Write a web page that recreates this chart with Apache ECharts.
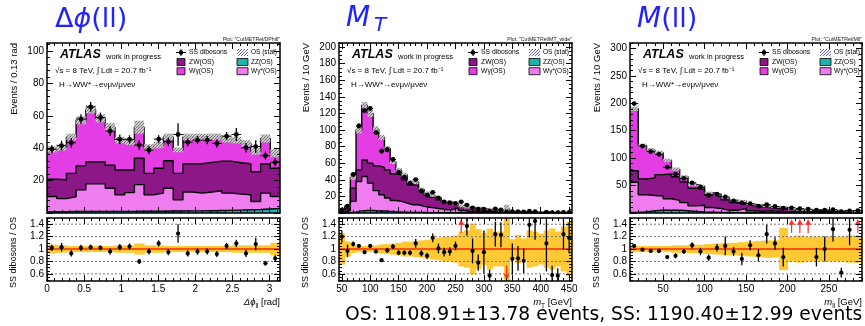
<!DOCTYPE html>
<html><head><meta charset="utf-8">
<script src="https://cdn.jsdelivr.net/npm/echarts@6.0.0/dist/echarts.min.js"></script>
<style>html,body{margin:0;padding:0;background:#fff;}#chart{width:865px;height:326px;}</style>
</head><body><div id="chart"></div>
<script>
// ================= DATA =================
// Panel 1: Δφ(ll) — 24 bins from 0 to π
const dphi_bins = {lo: 0, hi: Math.PI, n: 24};
const dphi_ZZ     = [0.8,0.8,0.9,0.9,0.9,1.0,1.0,1.0,1.0,1.1,1.1,1.1,1.2,1.2,1.3,1.3,1.4,1.5,1.6,1.8,2.0,2.2,2.5,2.8];
const dphi_WgStar = [9.4,8.1,9.1,13.4,17.1,17.0,14.3,10.2,11.6,16.4,10.1,11.2,14.1,6.9,11.7,11.0,11.6,12.2,10.7,9.9,9.2,4.9,9.8,7.4];
const dphi_ZW     = [10.6,11.6,14.5,14.9,13.7,13.7,14.2,15.4,14.0,16.3,13.3,15.3,17.0,16.4,17.4,18.1,18.3,18.3,19.7,19.3,19.2,18.4,18.1,17.4];
const dphi_Wg     = [18.5,20.0,22.5,28.1,32.3,26.7,23.5,18.4,17.4,19.2,16.0,14.4,14.7,14.5,16.6,16.6,15.7,15.0,13.5,14.0,12.6,12.5,15.6,9.4];
const dphi_OSerr  = [2,2,2,2.5,2.5,2.5,2.5,2,2,4,2,2,2,1.5,2,2,2,2,2,2,2,2,2.5,2.5];
const dphi_SS     = [39.4,41.6,43.4,58.0,65.5,59.0,50.6,45.5,45.5,42.0,38.9,45.6,44.0,48.5,43.7,45.0,45.0,43.0,47.5,48.5,40.3,41.0,35.4,31.3];
const dphi_SSerr  = [2.5,3,3,3,3,3,3,3,2.5,3,2.5,2.5,2.5,7,2.5,2.5,2.5,2.5,2.5,4,3,4,2.5,2.5];
const dphi_ratio  = [1.02,1.03,0.93,1.02,1.03,1.02,0.96,1.03,1.04,0.80,0.96,1.09,0.95,1.25,0.93,0.96,0.96,0.92,1.05,1.09,0.93,1.08,0.77,0.85];
const dphi_ratioErr=[0.05,0.07,0.05,0.05,0.04,0.04,0.05,0.05,0.05,0.04,0.05,0.05,0.05,0.15,0.05,0.05,0.05,0.05,0.05,0.06,0.06,0.1,0.04,0.05];
const dphi_band   = [0.07,0.06,0.05,0.05,0.05,0.05,0.05,0.06,0.06,0.09,0.06,0.06,0.05,0.05,0.05,0.05,0.05,0.05,0.05,0.06,0.06,0.06,0.06,0.1];
const dphi_xTicks = [0,0.5,1,1.5,2,2.5,3];
const dphi_yLabels = [20,40,60,80,100];

// Panel 2: M_T — 41 bins of 10 GeV from 45 to 455
const mt_bins = {lo: 45, hi: 455, n: 41};
const mt_ZZ     = [0.1,0.3,1,2.5,3,3,2.5,2.5,2,1.5, 1.2,1,0.8,0.7,0.6,0.5,0.4,0.4,0.3,0.3, 0.3,0.2,0.2,0.2,0.2,0.1,0.1,0.1,0.1,0.1, 0.1,0.1,0,0,0,0,0,0,0,0, 0];
const mt_WgStar = [0.9,2.7,13,35.5,41,33,24.5,19.5,16,13.5, 12.8,11,9.2,9.3,7.4,6.5,5.6,4.6,3.7,3.7, 5.7,2.8,1.8,1.8,1.8,1.4,1.4,0.9,0.9,0.9, 0.4,0.4,0.3,0.3,0.3,0.2,0.2,0.2,0.1,0.1, 0.1];
const mt_ZW     = [1,2,16,14,20,24,30,33,34,32, 32,28,24,23,19,15,13,11,9,7.5, 4.5,5,4.5,3.5,3,2.5,2,2,1.5,1, 1,1,0.7,0.7,0.5,0.5,0.4,0.3,0.4,0.3, 0.3];
const mt_Wg     = [1,3.5,13,48,66,60,44,36,26,15, 6,6,4,4,1.5,2,2,2,1,1.5, 0.5,0.5,0.5,1,1,1,0.5,1,0.5,3, 0.5,0.5,0.5,0.5,0.4,0.3,0.4,0.3,0.2,0.2, 0.1];
const mt_OSerr  = [1,1.5,3,4,4,4,3.5,3,3,3, 2.5,2.5,2,2,2,2,1.5,1.5,1.5,1.5, 1.5,1.5,1.5,1.5,1.5,1,1,1,1,5, 1,1,0.5,0.5,0.5,0.5,0.5,0.5,0.5,0.5, 0.5];
const mt_SS     = [3.6,8.2,46.4,105,123.5,126,97,74.6,76.4,64.5, 48.9,43.2,35.7,40.3,26.5,21.4,24.8,18.2,13.3,12.5, 11.6,13.5,9.6,6.3,4.7,4.75,2.3,5,3.7,1.2, 1.7,1.7,1.2,2.1,1.74,null,1.09,0.46,0.4,0.74, 0.59];
const mt_SSerr  = [1,1.5,2,3,3,3,3,3,3,2.5, 2.5,2,2,2,2,2,2,1.5,1.5,1.5, 1.5,1.5,1.5,1.5,1,1,1,1,1,0.5, 0.5,0.5,0.5,0.5,0.5,0,0.5,0.3,0.3,0.3, 0.3];
const mt_ratio  = [1.20,0.97,1.08,1.05,0.95,1.05,0.96,0.82,0.98,1.04, 0.94,0.94,0.94,1.09,0.93,0.89,1.18,1.01,0.95,0.96, 1.05,1.59,1.37,0.97,0.78,0.95,0.57,1.24,1.23,0.30, 0.84,0.85,0.81,1.39,1.45,null,1.09,0.58,0.57,1.24, 1.18];
const mt_ratioErr=[0.1,0.1,0.04,0.03,0.03,0.03,0.03,0.02,0.04,0.04, 0.04,0.04,0.04,0.07,0.05,0.05,0.07,0.08,0.07,0.07, 0.07,0,0.15,0.2,0.13,0.35,0.1,0.2,0.2,0, 0.25,0.2,0.2,0.2,0.3,0,0.45,0.15,0.12,0.25, 0.25];
const mt_band   = [0.25,0.12,0.065,0.05,0.05,0.05,0.06,0.075,0.08,0.09, 0.1,0.12,0.12,0.13,0.14,0.15,0.17,0.18,0.2,0.2, 0.22,0.28,0.3,0.41,0.32,0.26,0.33,0.28,0.28,0.6, 0.16,0.23,0.17,0.3,0.28,0.25,0.3,0.33,0.28,0.36, 0.44];
const mt_xTicks = [50,100,150,200,250,300,350,400,450];
const mt_yLabels = [20,40,60,80,100,120,140,160,180,200];

// Panel 3: M(ll) — 28 bins of 10 GeV from 10 to 290
const mll_bins = {lo: 10, hi: 290, n: 28};
const mll_ZZ     = [1,2,4,5,5,5,4,3,2,1.5, 1,0.8,0.6,0.5,0.4,0.3,0.3,0.2,0.2,0.2, 0.1,0.1,0.1,0.1,0.1,0.1,0.1,0.1];
const mll_WgStar = [55,31,28,26,21,18,15,10,12,8.5, 7,4.2,4.4,7.5,3.6,2.7,3.7,2.8,1.8,1.8, 1.4,1.4,0.9,0.9,0.9,0.7,0.5,0.4];
const mll_ZW     = [21,29,32,39,45,43,38,32,29,23, 22,19,14,8,9,8,6,5,5,3, 2.5,2,3,2.5,2,1.7,1.4,1.3];
const mll_Wg     = [113,61,51,40,25,14,9,7,6,4, 4,4,4,6,3,3,2,3,3,1, 1,1,2,1.5,1.5,1.5,1,0.7];
const mll_OSerr  = [4,3.5,3.5,3.5,3,3,3,2.5,2.5,2, 2,2,2,2,1.5,1.5,1.5,1.5,1.5,1, 1,1,1,1,1,1,1,1];
const mll_SS     = [199.5,122,112,107,83.5,71,63,55,47,32, 34.5,29.4,22,18.5,17,12.6,15,12,8.7,9.5, 8,7,5.2,5,5.9,2.5,3.9,4.5];
const mll_SSerr  = [3,2.5,2.5,2.5,2,2,2,2,2,1.5, 1.5,1.5,1.5,1.5,1,1,1,1,1,1, 1,1,1,1,1,0.5,0.5,0.5];
const mll_ratio  = [1.05,0.99,0.97,0.97,0.87,0.89,0.96,1.06,0.96,0.86, 1.02,1.05,0.96,0.84,1.06,0.90,1.24,1.09,0.87,1.58, 1.60,1.56,0.87,1.00,1.32,0.62,1.31,1.80];
const mll_ratioErr=[0.02,0.02,0.02,0.03,0.02,0.04,0.04,0.05,0.06,0.05, 0.06,0.15,0.07,0.1,0.08,0.1,0.15,0.1,0.15,0, 0,0,0.15,0.2,0.2,0.08,0.25,0];
const mll_band   = [0.05,0.05,0.05,0.05,0.05,0.06,0.06,0.07,0.07,0.08, 0.09,0.1,0.1,0.11,0.12,0.13,0.14,0.14,0.34,0.2, 0.22,0.2,0.2,0.2,0.2,0.2,0.22,0.22];
const mll_xTicks = [50,100,150,200,250];
const mll_yLabels = [50,100,150,200,250,300];

const ratio_yLabels = [0.6,0.8,1,1.2,1.4];
const ratio_dashed = [0.6,0.8,1.2,1.4];
const summaryText = 'OS: 1108.91\u00B113.78 events, SS: 1190.40\u00B112.99 events';

// ================= STYLE =================
const COL = {ZZ:'#1fb3ad', WgStar:'#f07df0', ZW:'#8c1787', Wg:'#e53de5', band:'#ffc933', red:'#f52a0a', arrow:'#ff2a2a', title:'#2222ff'};
const AX_FONT = '"Liberation Sans", Arial, sans-serif';
const RATIO_RANGE = [0.485, 1.5];
const MAIN_TOP = 43, MAIN_H = 170, RAT_TOP = 218, RAT_H = 63;

function makeHatch(bg, fg, n){
  const c = document.createElement('canvas'); c.width = n; c.height = n;
  const g = c.getContext('2d'); g.fillStyle = bg; g.fillRect(0,0,n,n);
  g.strokeStyle = fg; g.lineWidth = 1; g.beginPath();
  g.moveTo(-1,n+1); g.lineTo(n+1,-1); g.stroke();
  return c;
}
const hatchGray = makeHatch('rgba(205,205,205,0.95)', '#7a7a7a', 3);
const hatchBlue = makeHatch('#ffffff', '#5c5cd6', 3);

const grids = [], xAxes = [], yAxes = [], series = [], G = [];

function stepVals(lo, hi, step){
  const out = []; const k0 = Math.ceil(lo/step - 1e-9), k1 = Math.floor(hi/step + 1e-9);
  for (let k = k0; k <= k1; k++) out.push(+(k*step).toFixed(6));
  return out;
}
function mkAxis(kind, gi, r, pos, ticks, len, showLine, labels, fmt){
  const a = {type:'value', gridIndex:gi, min:r[0], max:r[1], position:pos, z:10,
    axisLine:{show:showLine, onZero:false, lineStyle:{color:'#000', width:1.5}},
    axisTick:{show:true, inside:true, length:len, customValues:ticks, lineStyle:{color:'#000', width:1}},
    axisLabel:{show:!!labels, customValues:labels || ticks, margin:3, color:'#000', fontSize:10, fontFamily:AX_FONT},
    splitLine:{show:false}, minorTick:{show:false}};
  if (fmt) a.axisLabel.formatter = fmt;
  const arr = kind === 'x' ? xAxes : yAxes; arr.push(a); return arr.length - 1;
}
function addGrid(box, xr, yr, xMajStep, xMinStep, yMajStep, yMinStep, xLab, yLab, yFmt){
  const gi = grids.length;
  grids.push({left:box.left, top:box.top, width:box.width, height:box.height, containLabel:false, outerBoundsMode:'none'});
  const xMaj = stepVals(xr[0], xr[1], xMajStep), xMin = stepVals(xr[0], xr[1], xMinStep);
  const yMaj = stepVals(yr[0], yr[1], yMajStep), yMin = stepVals(yr[0], yr[1], yMinStep);
  const xi = mkAxis('x', gi, xr, 'bottom', xMaj, 6, true, xLab);
  mkAxis('x', gi, xr, 'bottom', xMin, 3, false, null);
  mkAxis('x', gi, xr, 'top', xMaj, 6, true, null);
  mkAxis('x', gi, xr, 'top', xMin, 3, false, null);
  const yi = mkAxis('y', gi, yr, 'left', yMaj, 6, true, yLab, yFmt);
  mkAxis('y', gi, yr, 'left', yMin, 3, false, null);
  mkAxis('y', gi, yr, 'right', yMaj, 6, true, null);
  mkAxis('y', gi, yr, 'right', yMin, 3, false, null);
  return {xi, yi};
}

function pointsItem(withH, r){
  return function(params, api){
    const lo = api.value(0), hi = api.value(1), v = api.value(2), e = api.value(3), m = (lo+hi)/2;
    const c = api.coord([m, v]), t = api.coord([m, v+e]), b = api.coord([m, v-e]);
    const ch = [];
    if (withH){ const pl = api.coord([lo, v]), pr = api.coord([hi, v]);
      ch.push({type:'line', shape:{x1:pl[0], y1:pl[1], x2:pr[0], y2:pr[1]}, style:{stroke:'#000', lineWidth:1}}); }
    ch.push({type:'line', shape:{x1:t[0], y1:t[1], x2:b[0], y2:b[1]}, style:{stroke:'#000', lineWidth:1.3}});
    ch.push({type:'circle', shape:{cx:c[0], cy:c[1], r:r}, style:{fill:'#000'}});
    return {type:'group', children:ch};
  };
}

function buildPanel(P){
  const B = P.bins, edges = [];
  for (let i = 0; i <= B.n; i++) edges.push(B.lo + (B.hi - B.lo)*i/B.n);
  const xr = [B.lo, B.hi];
  const M = addGrid({left:P.left, top:MAIN_TOP, width:P.width, height:MAIN_H}, xr, [0, P.yMax],
                    P.xMajStep, P.xMinStep, P.yMajStep, P.yMinStep, null, P.yLabels);
  const R = addGrid({left:P.left, top:RAT_TOP, width:P.width, height:RAT_H}, xr, RATIO_RANGE,
                    P.xMajStep, P.xMinStep, 0.2, 0.05, P.xTicks, ratio_yLabels, v => String(+(+v).toFixed(1)));
  // stacked histogram (bottom -> top)
  const comps = [P.ZZ, P.WgStar, P.ZW, P.Wg], cols = [COL.ZZ, COL.WgStar, COL.ZW, COL.Wg];
  const cum = []; let acc = new Array(B.n).fill(0);
  comps.forEach(c => { acc = acc.map((a,i) => a + c[i]); cum.push(acc.slice()); });
  for (let k = comps.length - 1; k >= 0; k--){
    const d = []; for (let i = 0; i < B.n; i++) d.push([edges[i], cum[k][i]]); d.push([edges[B.n], cum[k][B.n-1]]);
    series.push({type:'line', xAxisIndex:M.xi, yAxisIndex:M.yi, step:'end', symbol:'none', data:d, silent:true,
      z: 2 + (comps.length - 1 - k), lineStyle:{color:'#000', width:1.4}, areaStyle:{color:cols[k], opacity:1}});
  }
  const total = cum[comps.length-1];
  // OS stat hatched band
  series.push({type:'custom', xAxisIndex:M.xi, yAxisIndex:M.yi, z:7, silent:true, clip:true,
    data: total.map((t,i) => [edges[i], edges[i+1], t, P.OSerr[i]]),
    renderItem: (params, api) => {
      const p1 = api.coord([api.value(0), api.value(2)+api.value(3)]), p2 = api.coord([api.value(1), api.value(2)-api.value(3)]);
      return {type:'rect', shape:{x:p1[0], y:p1[1], width:p2[0]-p1[0], height:p2[1]-p1[1]}, style:{fill:{image:hatchGray, repeat:'repeat'}}};
    }});
  // SS points
  const ssData = []; P.SS.forEach((v,i) => { if (v != null) ssData.push([edges[i], edges[i+1], v, P.SSerr[i]]); });
  series.push({type:'custom', xAxisIndex:M.xi, yAxisIndex:M.yi, z:8, silent:true, clip:true, data:ssData, renderItem:pointsItem(true, 2.4)});
  // ratio: dashed lines, band, red line, points, arrows
  ratio_dashed.forEach(y => series.push({type:'line', xAxisIndex:R.xi, yAxisIndex:R.yi, symbol:'none', silent:true, z:4,
    data:[[B.lo,y],[B.hi,y]], lineStyle:{color:'#777', width:1, type:[2,2]}}));
  series.push({type:'custom', xAxisIndex:R.xi, yAxisIndex:R.yi, z:3, silent:true, clip:true,
    data: P.band.map((w,i) => [edges[i], edges[i+1], w]),
    renderItem: (params, api) => {
      const p1 = api.coord([api.value(0), 1+api.value(2)]), p2 = api.coord([api.value(1), 1-api.value(2)]);
      return {type:'rect', shape:{x:p1[0], y:p1[1], width:p2[0]-p1[0]+0.5, height:p2[1]-p1[1]}, style:{fill:COL.band}};
    }});
  series.push({type:'line', xAxisIndex:R.xi, yAxisIndex:R.yi, symbol:'none', silent:true, z:5,
    data:[[B.lo,1],[B.hi,1]], lineStyle:{color:COL.red, width:1.4}});
  const rData = [], arrows = [];
  P.ratio.forEach((v,i) => {
    if (v == null) return;
    if (v > RATIO_RANGE[1]) arrows.push([(edges[i]+edges[i+1])/2, 1]);
    else if (v < RATIO_RANGE[0]) arrows.push([(edges[i]+edges[i+1])/2, -1]);
    else rData.push([edges[i], edges[i+1], v, P.ratioErr[i]]);
  });
  series.push({type:'custom', xAxisIndex:R.xi, yAxisIndex:R.yi, z:6, silent:true, clip:true, data:rData, renderItem:pointsItem(false, 2.1)});
  series.push({type:'custom', xAxisIndex:R.xi, yAxisIndex:R.yi, z:6, silent:true, data:arrows,
    renderItem: (params, api) => {
      const c = api.value(0), d = api.value(1);
      const pA = api.coord([c, d > 0 ? 1.26 : 0.74]), pB = api.coord([c, d > 0 ? 1.47 : 0.51]);
      return {type:'group', children:[
        {type:'line', shape:{x1:pA[0], y1:pA[1], x2:pB[0], y2:pB[1]}, style:{stroke:COL.arrow, lineWidth:1.2}},
        {type:'polygon', shape:{points:[[pB[0], pB[1]], [pB[0]-3, pB[1]+5*d], [pB[0]+3, pB[1]+5*d]]}, style:{fill:COL.arrow}}]};
    }});

  // ---- texts / legend ----
  const L = P.left, Rr = P.left + P.width;
  const t = (x, y, text, st, extra) => G.push(Object.assign({type:'text', x, y, z:100, silent:true,
      style:Object.assign({text, fill:'#000', fontSize:8, fontFamily:AX_FONT, align:'left', verticalAlign:'middle'}, st || {})}, extra || {}));
  t(Rr, 39.5, 'Plot: "' + P.plotName + '"', {fontSize:5.2, align:'right', fill:'#222'});
  t(L+13, 54.5, 'ATLAS', {fontSize:12.5, fontWeight:'bold', fontStyle:'italic'});
  t(L+59, 56.5, 'work in progress', {fontSize:7.5});
  t(L+8, 71, '\u221As = 8 TeV, \u222B Ldt = 20.7 fb\u207B\u00B9', {fontSize:8});
  t(L+12, 85, 'H\u2192WW*\u2192e\u03BD\u03BC\u03BD/\u03BC\u03BDe\u03BD', {fontSize:8});
  // legend
  const c1 = L+130, c2 = L+190, rows = [52.5, 62, 71.2];
  G.push({type:'line', z:100, silent:true, shape:{x1:c1-1, y1:rows[0], x2:c1+9, y2:rows[0]}, style:{stroke:'#000', lineWidth:1}});
  G.push({type:'line', z:100, silent:true, shape:{x1:c1+4, y1:rows[0]-3.5, x2:c1+4, y2:rows[0]+3.5}, style:{stroke:'#000', lineWidth:1}});
  G.push({type:'circle', z:100, silent:true, shape:{cx:c1+4, cy:rows[0], r:2.3}, style:{fill:'#000'}});
  G.push({type:'rect', z:100, silent:true, shape:{x:c2, y:rows[0]-3.5, width:11, height:7}, style:{fill:{image:hatchBlue, repeat:'repeat'}}});
  const box = (x, y, w, col) => G.push({type:'rect', z:100, silent:true, shape:{x, y:y-3.5, width:w, height:7}, style:{fill:col, stroke:'#000', lineWidth:0.8}});
  box(c1, rows[1], 8, COL.ZW); box(c2, rows[1], 11, COL.ZZ);
  box(c1, rows[2], 8, COL.Wg); box(c2, rows[2], 11, COL.WgStar);
  t(c1+12, rows[0], 'SS dibosons', {fontSize:6.8}); t(c2+14, rows[0], 'OS (stat)', {fontSize:6.5});
  t(c1+12, rows[1], 'ZW(OS)', {fontSize:6.8}); t(c2+14, rows[1], 'ZZ(OS)', {fontSize:6.5});
  t(c1+12, rows[2], 'W\u03B3(OS)', {fontSize:6.8}); t(c2+14, rows[2], 'W\u03B3*(OS)', {fontSize:6.5});
  // axis titles
  t(L-33, MAIN_TOP, P.yTitle, {fontSize:9.5, align:'right'}, {rotation:Math.PI/2});
  t(L-33, RAT_TOP - 1, 'SS dibosons / OS', {fontSize:9, align:'right'}, {rotation:Math.PI/2});
  t(Rr, 302.5, P.xTitle, {fontSize:9.5, align:'right', lineHeight:14,
    rich:{i:{fontSize:9.5, fontStyle:'italic', fontFamily:AX_FONT, lineHeight:14},
          s:{fontSize:6.5, fontFamily:AX_FONT, lineHeight:7, verticalAlign:'bottom'},
          n:{fontSize:9.5, fontFamily:AX_FONT, lineHeight:14}}});
}

buildPanel({left:47, width:233, bins:dphi_bins, yMax:105, xMajStep:0.5, xMinStep:0.1, yMajStep:20, yMinStep:4,
  xTicks:dphi_xTicks, yLabels:dphi_yLabels, ZZ:dphi_ZZ, WgStar:dphi_WgStar, ZW:dphi_ZW, Wg:dphi_Wg, OSerr:dphi_OSerr,
  SS:dphi_SS, SSerr:dphi_SSerr, ratio:dphi_ratio, ratioErr:dphi_ratioErr, band:dphi_band,
  plotName:'CutMETRel/DPhill', yTitle:'Events / 0.13 rad', xTitle:'{i|\u0394\u03D5}{s|ll}{n| [rad]}'});
buildPanel({left:339, width:233, bins:mt_bins, yMax:205, xMajStep:50, xMinStep:10, yMajStep:20, yMinStep:5,
  xTicks:mt_xTicks, yLabels:mt_yLabels, ZZ:mt_ZZ, WgStar:mt_WgStar, ZW:mt_ZW, Wg:mt_Wg, OSerr:mt_OSerr,
  SS:mt_SS, SSerr:mt_SSerr, ratio:mt_ratio, ratioErr:mt_ratioErr, band:mt_band,
  plotName:'CutMETRel/MT_wide', yTitle:'Events / 10 GeV', xTitle:'{i|m}{s|T}{n| [GeV]}'});
buildPanel({left:630, width:232, bins:mll_bins, yMax:310, xMajStep:50, xMinStep:10, yMajStep:50, yMinStep:10,
  xTicks:mll_xTicks, yLabels:mll_yLabels, ZZ:mll_ZZ, WgStar:mll_WgStar, ZW:mll_ZW, Wg:mll_Wg, OSerr:mll_OSerr,
  SS:mll_SS, SSerr:mll_SSerr, ratio:mll_ratio, ratioErr:mll_ratioErr, band:mll_band,
  plotName:'CutMETRel/Mll', yTitle:'Events / 10 GeV', xTitle:'{i|m}{s|ll}{n| [GeV]}'});

// Big titles
const TF = '"DejaVu Sans", sans-serif';
G.push({type:'text', x:55, y:20, z:100, silent:true, style:{text:'{n|\u0394}{i|\u03D5}{n|(ll)}', fill:COL.title, fontSize:27, fontFamily:TF, verticalAlign:'middle',
  rich:{n:{fontSize:27, fontFamily:TF, fill:COL.title}, i:{fontSize:27, fontFamily:TF, fontStyle:'italic', fill:COL.title}}}});
G.push({type:'text', x:346, y:18.5, z:100, silent:true, style:{text:'M', fill:COL.title, fontSize:28, fontFamily:TF, fontStyle:'italic', verticalAlign:'middle'}});
G.push({type:'text', x:374, y:26, z:100, silent:true, style:{text:'T', fill:COL.title, fontSize:20, fontFamily:TF, fontStyle:'italic', verticalAlign:'middle'}});
G.push({type:'text', x:637, y:20, z:100, silent:true, style:{text:'{i|M}{n|(ll)}', fill:COL.title, fontSize:27, fontFamily:TF, verticalAlign:'middle',
  rich:{n:{fontSize:27, fontFamily:TF, fill:COL.title}, i:{fontSize:28, fontFamily:TF, fontStyle:'italic', fill:COL.title}}}});
// summary line
G.push({type:'text', x:345, y:315, z:100, silent:true, style:{text:summaryText, fill:'#000', fontSize:18.7, fontFamily:TF, verticalAlign:'middle'}});

const chart = echarts.init(document.getElementById('chart'), null, {renderer:'canvas'});
chart.setOption({animation:false, backgroundColor:'#fff', textStyle:{fontFamily:AX_FONT},
  grid:grids, xAxis:xAxes, yAxis:yAxes, series:series, graphic:{elements:G}});
</script></body></html>
